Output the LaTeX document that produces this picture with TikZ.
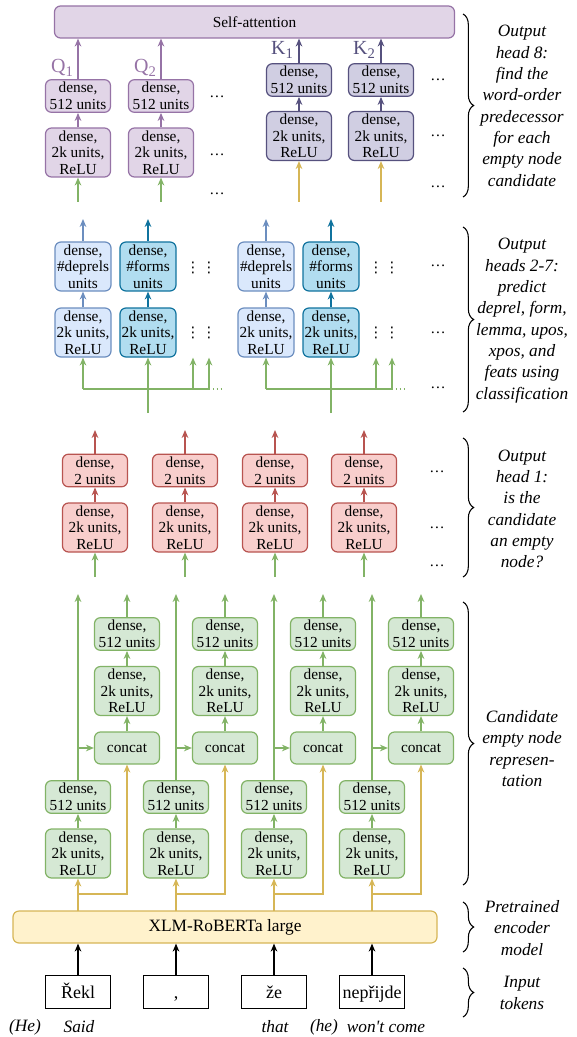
\documentclass[tikz,border=0pt]{standalone}
\usepackage{fontspec}
\setmainfont{Liberation Serif}
\newfontfamily\symfont{DejaVu Sans}
\usetikzlibrary{arrows.meta,decorations.pathreplacing,positioning}

\definecolor{grnF}{HTML}{D5E8D4}
\definecolor{grnD}{HTML}{82B366}
\definecolor{ylwF}{HTML}{FFF2CC}
\definecolor{ylwD}{HTML}{D6B656}
\definecolor{redF}{HTML}{F8CECC}
\definecolor{redD}{HTML}{B85450}
\definecolor{lblF}{HTML}{DAE8FC}
\definecolor{lblD}{HTML}{6C8EBF}
\definecolor{bluF}{HTML}{B1DDF0}
\definecolor{bluD}{HTML}{10739E}
\definecolor{purF}{HTML}{E1D5E7}
\definecolor{purD}{HTML}{9673A6}
\definecolor{dpuF}{HTML}{D0CEE2}
\definecolor{dpuD}{HTML}{56517E}

\newcommand{\twokrelu}{dense,\\2k units,\\ReLU}
\newcommand{\fivetwelve}{dense,\\512 units}
\newcommand{\hlab}[2]{#1\raisebox{-0.45ex}{\fontsize{11}{11}\selectfont #2}}

\begin{document}
\begin{tikzpicture}[x=0.75pt, y=-0.75pt, line width=0.9pt,
  >={Stealth[length=6pt,width=5pt]},
  box/.style={draw, rounded corners=4.5pt, align=center, inner sep=0pt,
    minimum width=48.75pt, font=\fontsize{11.5}{12.5}\selectfont},
  two/.style={box, minimum height=24.5pt},
  three/.style={box, minimum height=36.75pt},
  narrow/.style={minimum width=42pt},
  grn/.style={fill=grnF, draw=grnD},
  ylw/.style={fill=ylwF, draw=ylwD},
  red/.style={fill=redF, draw=redD},
  lbl/.style={fill=lblF, draw=lblD},
  blu/.style={fill=bluF, draw=bluD},
  pur/.style={fill=purF, draw=purD},
  dpu/.style={fill=dpuF, draw=dpuD},
  garr/.style={->, draw=grnD}, gline/.style={draw=grnD},
  yarr/.style={->, draw=ylwD},
  rarr/.style={->, draw=redD},
  larr/.style={->, draw=lblD},
  barr/.style={->, draw=bluD},
  parr/.style={->, draw=purD},
  darr/.style={->, draw=dpuD},
  tok/.style={draw, fill=white, line width=0.8pt, minimum width=48.75pt,
    minimum height=24.5pt, inner sep=0pt, text height=11pt, text depth=1pt,
    font=\fontsize{13.5}{14}\selectfont},
  qk/.style={inner sep=0pt, font=\fontsize{15}{15}\selectfont},
  dots/.style={inner sep=0pt, font=\fontsize{11.5}{12.5}\selectfont},
  vdot/.style={inner sep=0pt, font=\symfont\fontsize{11}{12}\selectfont},
  note/.style={align=center, font=\fontsize{13}{16}\selectfont\itshape},
  gloss/.style={font=\fontsize{13}{16}\selectfont\itshape},
  brc/.style={decorate, decoration={brace, amplitude=8pt}, line width=0.8pt}]
\path[use as bounding box] (0,0) rectangle (576,1037);

% Output head 8
\node[box, pur, minimum width=300pt, minimum height=24pt] (sa) at (254.5,22) {Self-attention};
\foreach \n/\x in {1/78,2/161}{
  \node[two,pur] (q\n s) at (\x,96) {\fivetwelve};
  \node[three,pur] (q\n l) at (\x,152.5) {\twokrelu};
  \node[qk,text=purD] (q\n n) at (\x-16,68) {\hlab{Q}{\n}};
  \coordinate (q\n b) at (\x,202);
  \draw[garr] (q\n b) -- (q\n l);
  \draw[parr] (q\n l) -- (q\n s);
  \draw[parr] (q\n s) -- (q\n s |- sa.south);
}
\foreach \n/\x in {1/299,2/381}{
  \node[two,dpu] (k\n s) at (\x,80) {\fivetwelve};
  \node[three,dpu] (k\n l) at (\x,136) {\twokrelu};
  \node[qk,text=dpuD] (k\n n) at (\x-17,50) {\hlab{K}{\n}};
  \coordinate (k\n b) at (\x,202);
  \draw[yarr] (k\n b) -- (k\n l);
  \draw[darr] (k\n l) -- (k\n s);
  \draw[darr] (k\n s) -- (k\n s |- sa.south);
}
\foreach \y [count=\c] in {97,155,194}
  \node[dots] (qd\c) at (217,\y) {\dots};
\foreach \y [count=\c] in {80,136,187}
  \node[dots] (kd\c) at (438,\y) {\dots};

% Output heads 2-7
\foreach \g/\x in {1/83,2/266}{
  \node[three,narrow,lbl] (da\g) at (\x,266.5) {dense,\\\#deprels\\units};
  \node[three,narrow,lbl] (ra\g) at (\x,332.5) {\twokrelu};
  \node[three,narrow,blu] (df\g) at (\x+65,266.5) {dense,\\\#forms\\units};
  \node[three,narrow,blu] (rf\g) at (\x+65,332.5) {\twokrelu};
  \node[vdot] (va\g) at (\x+110,268) {⋮};
  \node[vdot] (vb\g) at (\x+126,268) {⋮};
  \node[vdot] (vc\g) at (\x+110,333) {⋮};
  \node[vdot] (vd\g) at (\x+126,333) {⋮};
  \coordinate (ta\g) at (\x,219);
  \coordinate (tf\g) at (\x+65,219);
  \coordinate (ja\g) at (\x,389);
  \coordinate (je\g) at (\x+110,389);
  \coordinate (jb\g) at (\x+126,389);
  \coordinate (jc\g) at (\x+141,389);
  \coordinate (jv\g) at (\x+65,413);
  \draw[larr] (da\g) -- (ta\g);
  \draw[barr] (df\g) -- (tf\g);
  \draw[larr] (ra\g) -- (da\g);
  \draw[barr] (rf\g) -- (df\g);
  \draw[gline] (ja\g) -- (jb\g);
  \draw[gline, dotted] (jb\g) -- (jc\g);
  \draw[garr] (ja\g) -- (ra\g);
  \draw[garr] (jv\g) -- (rf\g);
  \draw[garr] (je\g) -- (je\g |- ra\g.south);
  \draw[garr] (jb\g) -- (jb\g |- ra\g.south);
}
\foreach \y [count=\c] in {266,333,388}
  \node[dots] (cd\c) at (438,\y) {\dots};

% Output head 1
\foreach \i/\x in {1/95,2/185,3/275,4/364}{
  \node[three,red] (hl\i) at (\x,527.5) {\twokrelu};
  \node[two,red] (hs\i) at (\x,470.5) {dense,\\2 units};
  \coordinate (hb\i) at (\x,577);
  \coordinate (ht\i) at (\x,430);
  \draw[garr] (hb\i) -- (hl\i);
  \draw[rarr] (hl\i) -- (hs\i);
  \draw[rarr] (hs\i) -- (ht\i);
}
\foreach \y [count=\c] in {472,528,566}
  \node[dots] (ed\c) at (437,\y) {\dots};

% Encoder and input tokens
\node[box, ylw, minimum width=318pt, minimum height=24pt,
  font=\fontsize{13}{14}\selectfont] (enc) at (225,927) {XLM-RoBERTa large};
\node[tok] (tok1) at (78,992) {Řekl};
\node[tok] (tok2) at (176,992) {,};
\node[tok] (tok3) at (274,992) {že};
\node[tok] (tok4) at (372,992) {nepřijde};
\foreach \i in {1,...,4}
  \draw[->] (tok\i) -- (tok\i |- enc.south);

% Candidate empty node representation
\foreach \i/\x in {1/78,2/176,3/274,4/372}{
  \node[three,grn] (lo\i) at (\x,853.5) {\twokrelu};
  \node[two,grn] (lf\i) at (\x,797) {\fivetwelve};
  \node[box,grn,minimum height=24pt] (cat\i) at (\x+49,748) {concat};
  \node[three,grn] (up\i) at (\x+49,691) {\twokrelu};
  \node[two,grn] (uf\i) at (\x+49,634) {\fivetwelve};
  \coordinate (ya\i) at (\x,911);
  \coordinate (lt\i) at (\x,594);
  \coordinate (ut\i) at (\x+49,594);
  \draw[yarr] (ya\i) -- (lo\i);
  \draw[yarr] (ya\i) ++(0,-17) -| (cat\i.south);
  \draw[garr] (lo\i) -- (lf\i);
  \draw[garr] (lf\i) -- (lt\i);
  \draw[garr] (lf\i.north |- cat\i) -- (cat\i.west);
  \draw[garr] (cat\i) -- (up\i);
  \draw[garr] (up\i) -- (uf\i);
  \draw[garr] (uf\i) -- (ut\i);
}

% Glosses
\node[gloss] (g1) at (25,1027) {(He)};
\node[gloss] (g2) at (79,1027) {Said};
\node[gloss] (g3) at (275,1027) {that};
\node[gloss] (g4) at (324,1027) {(he)};
\node[gloss] (g5) at (386,1027) {won\textquotesingle t come};

% Braces and notes
\draw[brc] (463,14) -- (463,197);
\draw[brc] (463,227) -- (463,412);
\draw[brc] (463,438) -- (463,577);
\draw[brc] (463,602) -- (463,885);
\draw[brc] (463,902) -- (463,952);
\draw[brc] (463,968) -- (463,1017);
\node[note] (n8) at (522,106) {Output\\head 8:\\find the\\word-order\\predecessor\\for each\\empty node\\candidate};
\node[note] (n2) at (522,320.5) {Output\\heads 2-7:\\predict\\deprel, form,\\lemma, upos,\\xpos, and\\feats using\\classification};
\node[note] (n1) at (522,509) {Output\\head 1:\\is the\\candidate\\an empty\\node?};
\node[note] (nc) at (522,748.5) {Candidate\\empty node\\represen-\\tation};
\node[note] (ne) at (522,928) {Pretrained\\encoder\\model};
\node[note] (nt) at (522,993) {Input\\tokens};
\end{tikzpicture}
\end{document}
